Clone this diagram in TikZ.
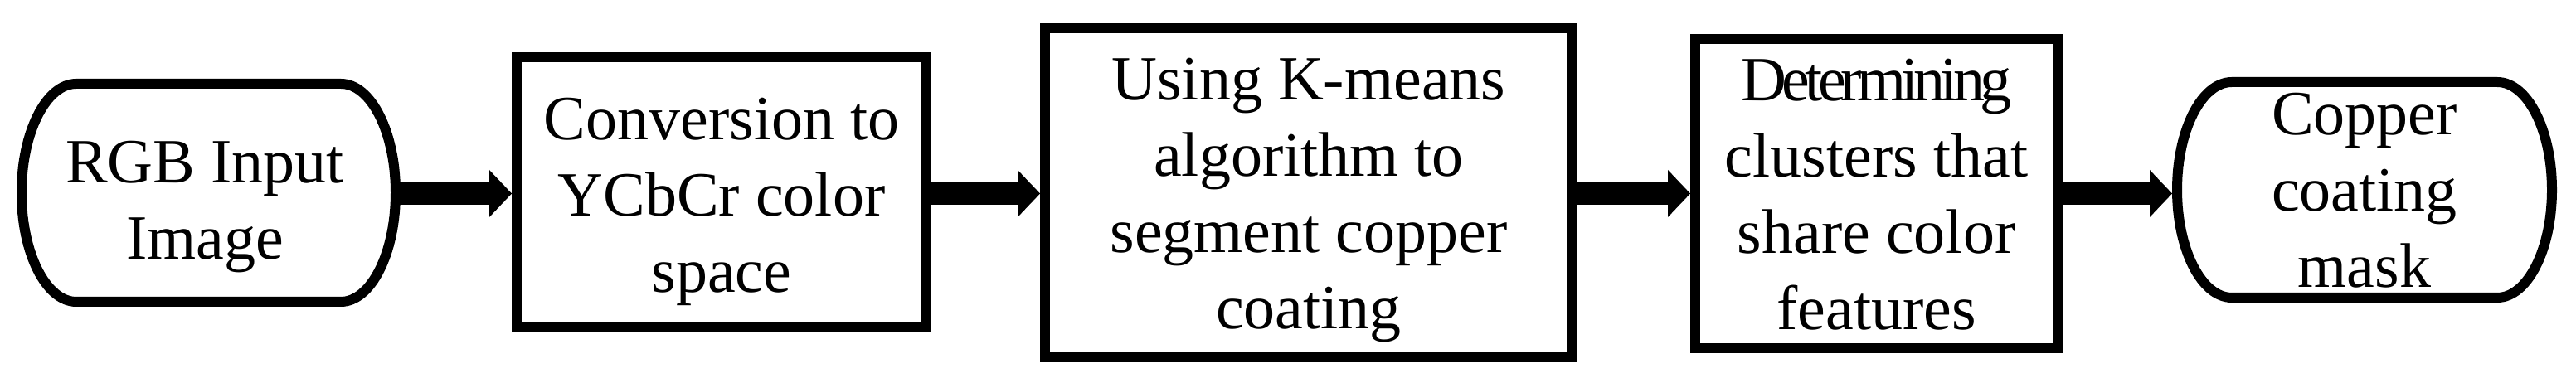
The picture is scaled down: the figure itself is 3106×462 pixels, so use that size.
\documentclass[tikz,border=0pt]{standalone}
\usepackage{fontspec}
\setmainfont{Liberation Serif}
\usetikzlibrary{arrows.meta}
\newcommand{\wstrut}{\rule[-16.4pt]{0pt}{84.1pt}}
\newcommand{\ck}{\kern-5.9pt}
\begin{document}
\begin{tikzpicture}[x=1pt,y=1pt,
  lw/.style={line width=12pt, line join=round},
  termshape/.style={inner sep=0pt, outer sep=0pt},
  procbox/.style={draw, line width=12pt, inner sep=0pt},
  txt/.style={font=\fontsize{76}{92}\selectfont, align=center, inner sep=0pt},
  flow/.style={line width=28pt, -{Triangle[length=27pt,width=57pt,line width=0pt]}}]
\useasboundingbox (0,0) rectangle (3106,462);

% terminator 1
\node[termshape, minimum width=319pt, minimum height=263pt] (t1) at (251.5,229.5) {};
\draw[lw] (t1.north west) -- (t1.north east)
  arc[start angle=90, end angle=-90, x radius=66pt, y radius=131.5pt]
  -- (t1.south west)
  arc[start angle=270, end angle=90, x radius=66pt, y radius=131.5pt] -- cycle;

% process boxes
\node[procbox, minimum width=494pt, minimum height=325pt] (b2) at (870,230.5) {};
\node[procbox, minimum width=636pt, minimum height=397pt] (b3) at (1578,229.5) {};
\node[procbox, minimum width=437pt, minimum height=373pt] (b4) at (2262.5,228.5) {};

% terminator 2
\node[termshape, minimum width=320pt, minimum height=260pt] (t2) at (2851,233) {};
\draw[lw] (t2.north west) -- (t2.north east)
  arc[start angle=90, end angle=-90, x radius=66pt, y radius=130pt]
  -- (t2.south west)
  arc[start angle=270, end angle=90, x radius=66pt, y radius=130pt] -- cycle;

% texts
\node[txt] (t1t) at ([xshift=-4.5pt,yshift=-8.4pt]t1.center) {\wstrut RGB Input\\\wstrut Image};
\node[txt] (b2t) at ([yshift=-3pt]b2.center) {\wstrut Conversion to\\\wstrut YCbCr color\\\wstrut space};
\node[txt] (b3t) at (b3.center) {\wstrut Using K-means\\\wstrut algorithm to\\\wstrut segment copper\\\wstrut coating};
\node[txt] (b4t) at (b4.center) {\wstrut D\ck e\ck t\ck e\ck r\ck m\ck i\ck n\ck i\ck n\ck g\\\wstrut clusters that\\\wstrut share color\\\wstrut features};
\node[txt] (t2t) at (t2.center) {\wstrut Copper\\\wstrut coating\\\wstrut mask};

% connectors
\coordinate (ay) at (0,228.5);
\coordinate (t1r) at ([xshift=66pt]t1.east);
\coordinate (t2l) at ([xshift=-72pt]t2.west);
\draw[flow] (t1r |- ay) -- (b2.west |- ay);
\draw[flow] (b2.east |- ay) -- (b3.west |- ay);
\draw[flow] (b3.east |- ay) -- (b4.west |- ay);
\draw[flow] (b4.east |- ay) -- (t2l |- ay);
\end{tikzpicture}
\end{document}
